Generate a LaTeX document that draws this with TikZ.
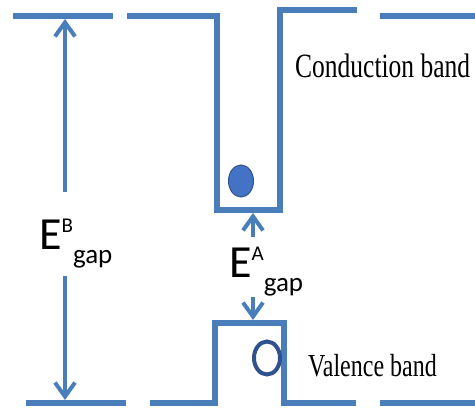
\documentclass[tikz,border=0pt]{standalone}
\usepackage{fontspec}
\usetikzlibrary{arrows.meta,shapes.geometric}
\newfontfamily\labelfont{Carlito}
\newfontfamily\bandfont[FakeStretch=0.75]{Liberation Serif}
\definecolor{bandblue}{RGB}{74,126,187}
\definecolor{dotblue}{RGB}{68,114,196}
\definecolor{holeblue}{RGB}{47,82,143}
\newcommand{\Egap}[1]{\labelfont{\fontsize{46}{46}\selectfont E}%
  \raisebox{17pt}{\fontsize{21}{21}\selectfont #1}%
  \raisebox{-14pt}{\fontsize{27}{27}\selectfont gap}}

\begin{document}
\begin{tikzpicture}[x=1pt, y=-1pt,
    band/.style={draw=bandblue, line width=6pt},
    gaparrow/.style={draw=bandblue, line width=4pt,
      -{Straight Barb[length=14pt, width=20pt]}},
    electron/.style={ellipse, draw=holeblue, fill=dotblue, line width=1pt,
      minimum width=25pt, minimum height=32pt, inner sep=0pt},
    hole/.style={ellipse, draw=holeblue, line width=4pt,
      minimum width=26pt, minimum height=33pt, inner sep=0pt},
    bandlabel/.style={anchor=base west, inner sep=0pt}]
  \useasboundingbox (0,0) rectangle (475,409);
  % conduction band edge
  \draw[band] (13,16) -- (113,16);
  \draw[band] (127,16) -- (217,16) -- (217,210) -- (280,210) -- (280,10) -- (357,10);
  \draw[band] (380,16) -- (475,16);
  % valence band edge
  \draw[band] (26,403) -- (126,403);
  \draw[band] (150,403) -- (215,403) -- (215,323) -- (284,323) -- (284,403) -- (356,403);
  \draw[band] (380,403) -- (475,403);

  \node[electron] (e) at (241,181) {};
  \node[hole] (h) at (267,358) {};

  \node[bandlabel, font=\bandfont\fontsize{34}{34}\selectfont] (cb) at (295,78) {Conduction band};
  \node[bandlabel, font=\bandfont\fontsize{32}{32}\selectfont] (vb) at (308,377) {Valence band};

  \node[bandlabel] (EB) at (39,250) {\Egap{B}};
  \node[bandlabel] (EA) at (229,278) {\Egap{A}};

  \coordinate (EBtop) at (65,19);
  \coordinate (EBbot) at (65,400);
  \coordinate (EAtop) at (253,213);
  \coordinate (EAbot) at (253,320);
  \draw[gaparrow] (EB.north -| EBtop) ++(0,-27) -- (EBtop);
  \draw[gaparrow] (EB.south -| EBbot) ++(0,7) -- (EBbot);
  \draw[gaparrow] (EA.north -| EAtop) ++(0,-10) -- (EAtop);
  \draw[gaparrow] (EA.south -| EAbot) -- (EAbot);
\end{tikzpicture}
\end{document}
